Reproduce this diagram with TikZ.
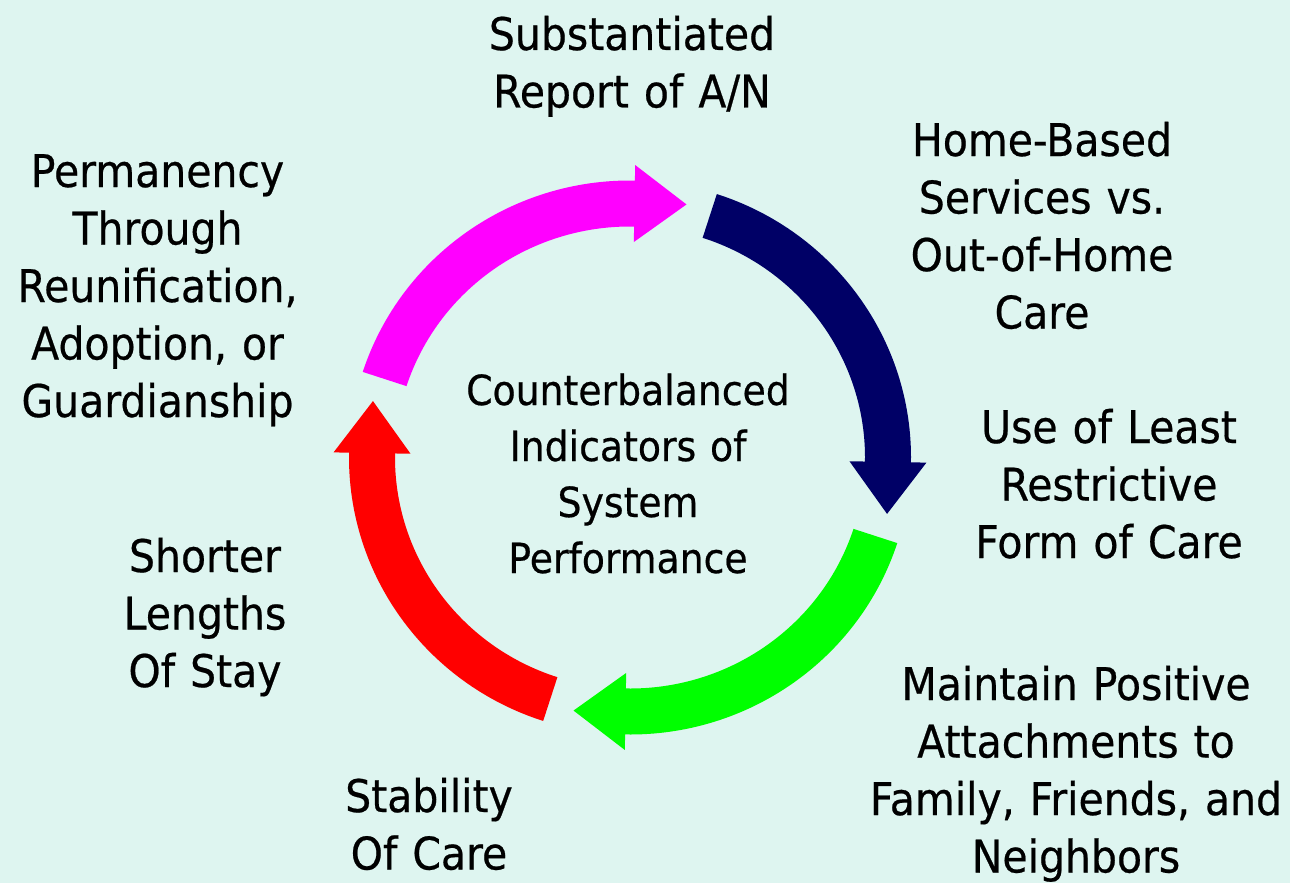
\documentclass[tikz,border=0pt]{standalone}
\usepackage{fontspec}
\setmainfont{DejaVu Sans}[FakeStretch=0.91,FakeBold=0.5]
\usetikzlibrary{calc}
\definecolor{bg}{RGB}{222,245,240}
\definecolor{navyc}{RGB}{0,0,102}
\definecolor{magc}{RGB}{255,0,255}
\definecolor{grnc}{RGB}{0,255,0}
\definecolor{redc}{RGB}{255,0,0}
\newcommand\ringarrow[3]{%
  \fill[#1] ($(C)+(#2:281 and 277)$) arc[start angle=#2, end angle=#3, x radius=281, y radius=277]
    -- ($(C)+(#3:296.5 and 292.5)$)
    -- ($(C)+(#3:258 and 254)+({#3-90}:52)$)
    -- ($(C)+(#3:219.5 and 215.5)$)
    -- ($(C)+(#3:235 and 231)$) arc[start angle=#3, end angle=#2, x radius=235, y radius=231]
    -- cycle;}
\begin{document}
\begin{tikzpicture}[x=1pt,y=1pt,
  lbl/.style={text width=470pt, align=center, inner sep=0pt, anchor=base,
    font=\fontsize{45}{57.5}\selectfont},
  ctrlbl/.style={lbl, font=\fontsize{41.5}{56}\selectfont}]
\useasboundingbox[fill=bg] (0,0) rectangle (1290,-883);
\coordinate (C) at (630,-457.5);
\ringarrow{magc}{162}{89}
\ringarrow{navyc}{72}{-1}
\ringarrow{grnc}{-18}{-91}
\ringarrow{redc}{-108}{-181}
\node[lbl] (sub) at (632,-50) {Substantiated\\Report of A/N};
\node[lbl] (home) at (1042,-156) {Home-Based\\Services vs.\\Out-of-Home\\Care};
\node[lbl] (least) at (1109,-443) {Use of Least\\Restrictive\\Form of Care};
\node[lbl] (attach) at (1076,-700) {Maintain Positive\\Attachments to\\Family, Friends, and\\Neighbors};
\node[lbl] (stab) at (429,-812) {Stability\\Of Care};
\node[lbl] (stay) at (205,-572) {Shorter\\Lengths\\Of Stay};
\node[lbl] (perm) at (157.5,-187) {Permanency\\Through\\Reunification,\\Adoption, or\\Guardianship};
\node[ctrlbl] (ctr) at (628,-405) {Counterbalanced\\Indicators of\\System\\Performance};
\end{tikzpicture}
\end{document}
